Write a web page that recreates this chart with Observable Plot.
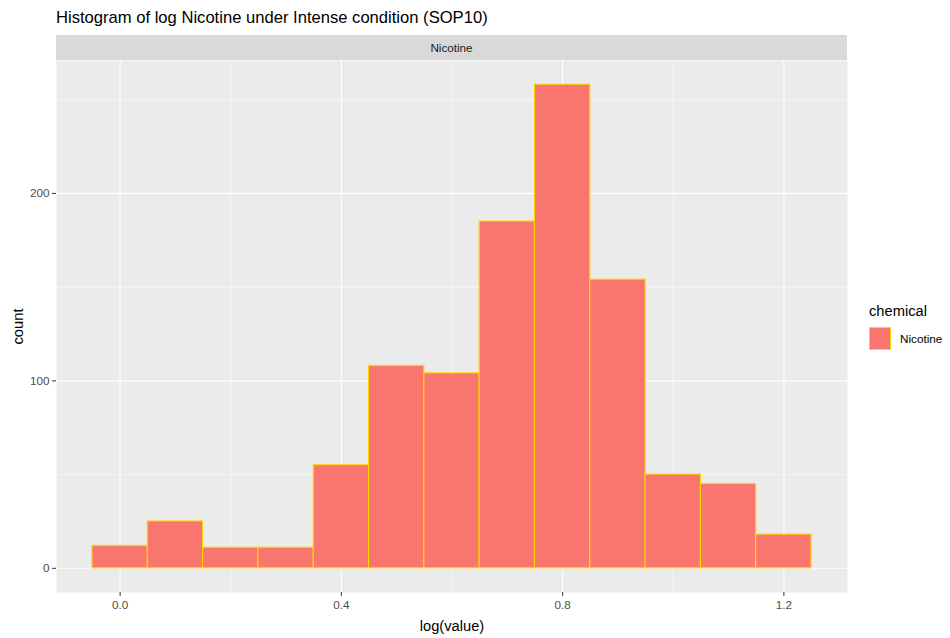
<!DOCTYPE html>
<html>
<head>
<meta charset="utf-8">
<script src="https://cdn.jsdelivr.net/npm/d3@7"></script>
<script src="https://cdn.jsdelivr.net/npm/@observablehq/plot@0.6"></script>
<style>
  html, body { margin: 0; padding: 0; background: white; }
  body { width: 950px; height: 638px; position: relative; overflow: hidden; font-family: "Liberation Sans", Arial, sans-serif; }
  #title { position: absolute; left: 56px; top: 8px; font-size: 16.6px; color: #000; white-space: nowrap; }
  #strip { position: absolute; left: 56px; top: 35px; width: 791px; height: 25px; background: #d9d9d9; color: #1a1a1a; font-size: 11.7px; text-align: center; line-height: 25px; }
  #chart { position: absolute; left: 0; top: 60px; }
  #legend { position: absolute; left: 869px; top: 303px; }
  #legend .lt { font-size: 14.7px; color: #000; }
  #legend .row { display: flex; align-items: center; margin-top: 8px; }
  #legend .key { width: 22px; height: 23px; background: #F8766D; border: 1px solid gold; box-sizing: border-box; }
  #legend .lab { font-size: 11.7px; color: #000; margin-left: 9px; }
  svg [aria-label="x-axis label"], svg [aria-label="y-axis label"] { font-size: 14.7px; fill: #000; }
</style>
</head>
<body>
<div id="title">Histogram of log Nicotine under Intense condition (SOP10)</div>
<div id="strip">Nicotine</div>
<div id="chart"></div>
<div id="legend">
  <div class="lt">chemical</div>
  <div class="row"><div class="key"></div><div class="lab">Nicotine</div></div>
</div>
<script>
const binCenters = [0.0, 0.1, 0.2, 0.3, 0.4, 0.5, 0.6, 0.7, 0.8, 0.9, 1.0, 1.1, 1.2];
const counts = [12, 25, 11, 11, 55, 108, 104, 185, 258, 154, 50, 45, 18];
const binWidth = 0.1;
const xMajor = [0, 0.4, 0.8, 1.2];
const xMinor = [0.2, 0.6, 1.0];
const yMajor = [0, 100, 200];
const yMinor = [50, 150, 250];

const bins = binCenters.map((c, i) => ({x1: c - binWidth / 2, x2: c + binWidth / 2, count: counts[i]}));
const xlo = binCenters[0] - binWidth / 2, xhi = binCenters[binCenters.length - 1] + binWidth / 2;
const xpad = (xhi - xlo) * 0.05;
const ymax = d3.max(counts), ypad = ymax * 0.05;

const chart = Plot.plot({
  width: 950,
  height: 578,
  marginLeft: 56,
  marginRight: 103,
  marginTop: 0,
  marginBottom: 46,
  style: {fontFamily: "Liberation Sans, Arial, sans-serif", fontSize: "11.7px", color: "#4d4d4d", background: "transparent", overflow: "visible"},
  x: {domain: [xlo - xpad, xhi + xpad]},
  y: {domain: [-ypad, ymax + ypad]},
  marks: [
    Plot.frame({fill: "#ebebeb", stroke: "none"}),
    Plot.gridX(xMinor, {stroke: "white", strokeOpacity: 1, strokeWidth: 0.55}),
    Plot.gridY(yMinor, {stroke: "white", strokeOpacity: 1, strokeWidth: 0.55}),
    Plot.gridX(xMajor, {stroke: "white", strokeOpacity: 1, strokeWidth: 1.1}),
    Plot.gridY(yMajor, {stroke: "white", strokeOpacity: 1, strokeWidth: 1.1}),
    Plot.rectY(bins, {x1: "x1", x2: "x2", y1: 0, y2: "count", fill: "#F8766D", stroke: "gold", strokeWidth: 1.1, inset: 0}),
    Plot.axisX(xMajor, {tickSize: 4, tickPadding: 4, stroke: "#333", tickFormat: d => d.toFixed(1), label: "log(value)", labelAnchor: "center", labelOffset: 38, labelArrow: "none", fill: "#4d4d4d"}),
    Plot.axisY(yMajor, {tickSize: 4, tickPadding: 3, stroke: "#333", label: "count", labelAnchor: "center", labelOffset: 44, labelArrow: "none", fill: "#4d4d4d"})
  ]
});
document.getElementById("chart").appendChild(chart);
</script>
</body>
</html>
